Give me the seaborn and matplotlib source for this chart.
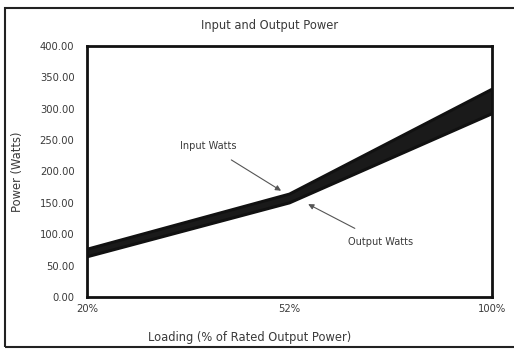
import matplotlib
matplotlib.use("Agg")
import matplotlib.pyplot as plt
import seaborn as sns
import pandas as pd
from matplotlib.patches import Rectangle

# Power measurements at each loading level
loading = ["20%", "52%", "100%"]
input_watts = [76, 164, 331]
output_watts = [64, 150, 292]
y_ticks = [0, 50, 100, 150, 200, 250, 300, 350, 400]

sns.set_theme(style="white")
plt.rcParams["font.family"] = ["DejaVu Sans"]

df = pd.DataFrame({
    "pos": list(range(len(loading))) * 2,
    "watts": input_watts + output_watts,
    "series": ["Input Watts"] * len(loading) + ["Output Watts"] * len(loading),
})

W, H = 514, 350
fig = plt.figure(figsize=(W / 100, H / 100), dpi=100)
ax = fig.add_axes([87 / W, 1 - 297 / H, (492 - 87) / W, (297 - 46) / H])

# outer chart-area frame
fig.patches.append(Rectangle((5 / W, 3 / H), 1.2, 339 / H, transform=fig.transFigure,
                             fill=False, edgecolor="#222222", linewidth=1.5))

pos = list(range(len(loading)))
ax.fill_between(pos, output_watts, input_watts, color="#1a1a1a", linewidth=0)
sns.lineplot(data=df, x="pos", y="watts", hue="series", palette=["#111111", "#111111"],
             linewidth=2.2, legend=False, ax=ax)

ax.set_xlim(0, len(loading) - 1)
ax.set_ylim(0, 400)
ax.set_xticks(pos)
ax.set_xticklabels(loading)
ax.set_yticks(y_ticks)
ax.set_yticklabels([f"{v:.2f}" for v in y_ticks])
ax.tick_params(axis="y", labelsize=7.2, colors="#3a3a3a", length=0, pad=9)
ax.tick_params(axis="x", labelsize=7.2, colors="#3a3a3a", length=0, pad=5)
for s in ax.spines.values():
    s.set_color("#111111")
    s.set_linewidth(2)

ax.set_xlabel("Loading (% of Rated Output Power)", fontsize=8.3, color="#3a3a3a")
ax.set_ylabel("Power (Watts)", fontsize=8.3, color="#3a3a3a")
ax.xaxis.set_label_coords(250 / (492 - 87) - 87 / (492 - 87) + 0.0, -(337 - 297) / (297 - 46))
ax.xaxis.label.set_va("center")
ax.yaxis.set_label_coords(-(87 - 17) / (492 - 87), 0.5)
ax.yaxis.label.set_va("center")
fig.text(270 / W, 1 - 25 / H, "Input and Output Power", ha="center", va="center",
         fontsize=8.3, color="#3a3a3a")

ax.annotate("Input Watts", xy=(0.97, 167), xytext=(0.6, 241),
            fontsize=7, color="#3a3a3a", ha="center", va="center",
            arrowprops=dict(arrowstyle="-|>", color="#555555", lw=0.8, shrinkA=8,
                            mutation_scale=8))
ax.annotate("Output Watts", xy=(1.08, 150), xytext=(1.45, 88),
            fontsize=7, color="#3a3a3a", ha="center", va="center",
            arrowprops=dict(arrowstyle="-|>", color="#555555", lw=0.8, shrinkA=8,
                            mutation_scale=8))

fig.savefig("out.png", dpi=100)
